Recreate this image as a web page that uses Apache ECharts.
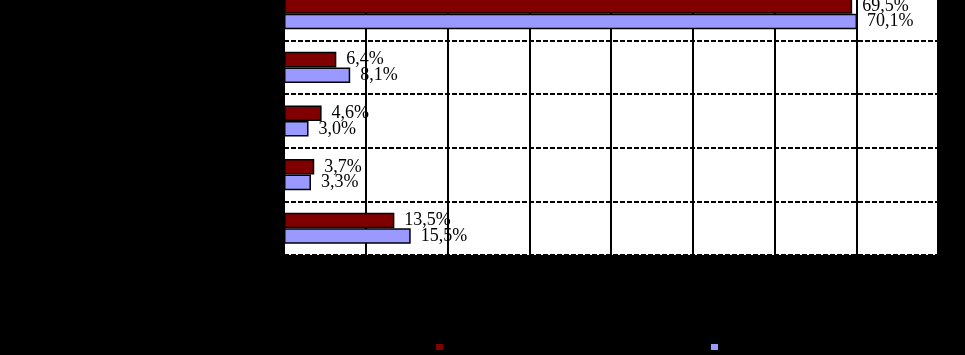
<!DOCTYPE html>
<html>
<head>
<meta charset="utf-8">
<script src="https://cdn.jsdelivr.net/npm/echarts@6/dist/echarts.min.js"></script>
<style>
  html, body { margin: 0; padding: 0; background: #000; overflow: hidden; }
  /* the original picture is cut at the top: the plot starts above the frame */
  #chart { width: 965px; height: 368px; margin-top: -13px; }
</style>
</head>
<body>
<div id="chart"></div>
<script>
// categories top to bottom (labels are drawn black on black in the original)
const categories = ['Catégorie 1', 'Catégorie 2', 'Catégorie 3', 'Catégorie 4', 'Catégorie 5']
const seriesNames = ['Série 1', 'Série 2']
const redValues = [69.5, 6.4, 4.6, 3.7, 13.5]
const blueValues = [70.1, 8.1, 3.0, 3.3, 15.5]
const xTicks = [0, 10, 20, 30, 40, 50, 60, 70, 80]

const chart = echarts.init(document.getElementById('chart'))

// 数值标签：逗号小数
const pctLabel = {
  show: true,
  position: 'right',
  distance: 10,
  color: '#000',
  fontFamily: '"Liberation Serif", "Times New Roman", serif',
  fontSize: 18,
  formatter: p => p.value.toFixed(1).replace('.', ',') + '%'
}

const legendBase = {
  top: 355,
  padding: 0,
  itemWidth: 9,
  itemHeight: 8,
  icon: 'rect',
  textStyle: { color: '#000', fontSize: 10, lineHeight: 8 }
}

chart.setOption({
  animation: false,
  backgroundColor: '#000',
  grid: {
    left: 284,
    right: 27,
    top: 0,
    bottom: 100,
    show: true,
    backgroundColor: '#fff',
    borderWidth: 0
  },
  legend: [
    { ...legendBase, left: 434, data: [seriesNames[0]] },
    { ...legendBase, left: 709, data: [seriesNames[1]] }
  ],
  xAxis: {
    type: 'value',
    min: xTicks[0],
    max: xTicks[xTicks.length - 1],
    interval: 10,
    axisLine: { show: false },
    axisTick: { show: false },
    axisLabel: { color: '#000', formatter: '{value}%' },
    splitLine: { lineStyle: { color: '#000', width: 2, type: 'solid' } }
  },
  yAxis: {
    type: 'category',
    inverse: true,
    data: categories,
    axisLine: { show: true, lineStyle: { color: '#000', width: 2 } },
    axisTick: { show: false },
    axisLabel: { color: '#000' },
    splitLine: { show: true, lineStyle: { color: '#000', width: 2, type: [5, 2] } }
  },
  series: [
    {
      name: seriesNames[0],
      type: 'bar',
      data: redValues,
      barGap: '0%',
      barCategoryGap: '42%',
      itemStyle: { color: '#800000', borderColor: '#000', borderWidth: 1.5 },
      label: pctLabel
    },
    {
      name: seriesNames[1],
      type: 'bar',
      data: blueValues,
      itemStyle: { color: '#9999ff', borderColor: '#000', borderWidth: 1.5 },
      label: pctLabel
    }
  ]
})
</script>
</body>
</html>
